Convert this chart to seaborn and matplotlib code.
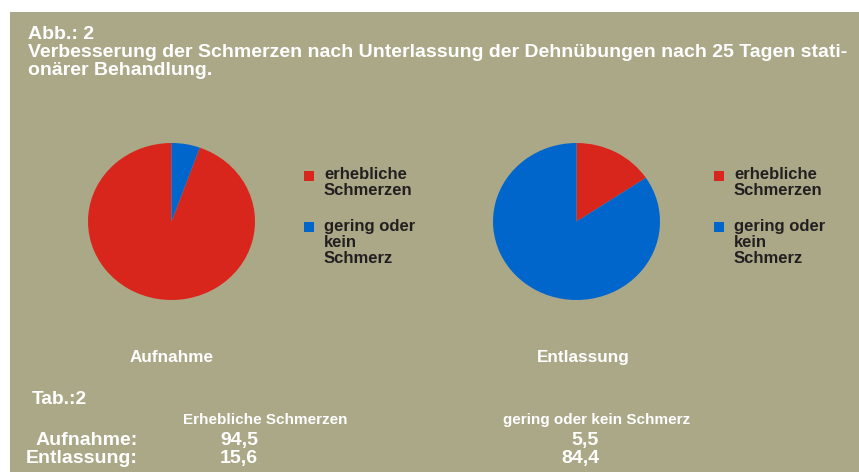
import matplotlib.pyplot as plt
import matplotlib.patches as mpatches
import seaborn as sns

# data
categories = ["erhebliche Schmerzen", "gering oder kein Schmerz"]
legend_labels = ["erhebliche\nSchmerzen", "gering oder\nkein\nSchmerz"]
aufnahme = [94.5, 5.5]
entlassung = [15.6, 84.4]
table_rows = ["Aufnahme:", "Entlassung:"]
table_cols = ["Erhebliche Schmerzen", "gering oder kein Schmerz"]
table_vals = [["94,5", "5,5"], ["15,6", "84,4"]]

sns.set_theme(style="white")
plt.rcParams["font.family"] = ["Liberation Sans", "DejaVu Sans"]
plt.rcParams["font.weight"] = "bold"

bg = "#aba888"
red, blue = sns.color_palette(["#d9261c", "#0066cc"])
dark = "#231f20"

W, H = 859, 472
fig = plt.figure(figsize=(W / 100, H / 100), dpi=100, facecolor="white")


def fx(x):
    return x / W


def fy(y):
    return 1 - y / H


# khaki panel with white strip at top/left
fig.patches.append(mpatches.Rectangle((fx(10), 0), 1 - fx(10), fy(12), transform=fig.transFigure,
                                      facecolor=bg, edgecolor="none", zorder=-5))

# title
fig.text(fx(28), fy(39), "Abb.: 2", color="white", fontsize=14, fontweight="bold")
fig.text(fx(28), fy(57), "Verbesserung der Schmerzen nach Unterlassung der Dehnübungen nach 25 Tagen stati-",
         color="white", fontsize=14, fontweight="bold")
fig.text(fx(28), fy(75), "onärer Behandlung.", color="white", fontsize=14, fontweight="bold")


def draw_pie(left, values, colors, counter):
    ax = fig.add_axes([fx(left), fy(300), 167 / W, 157 / H])
    ax.pie(values, colors=colors, startangle=90, counterclock=counter,
           wedgeprops=dict(linewidth=0))
    ax.set_aspect("auto")
    ax.set_xlim(-1, 1)
    ax.set_ylim(-1, 1)
    ax.patch.set_alpha(0)
    return ax


draw_pie(88, aufnahme, [red, blue], True)
draw_pie(493, entlassung, [red, blue], False)


def draw_legend(x_sq, x_txt):
    for (y_sq, y_base, lab, col) in [(171, 179, legend_labels[0], red), (222, 231, legend_labels[1], blue)]:
        fig.patches.append(mpatches.Rectangle((fx(x_sq), fy(y_sq + 10)), 10 / W, 10 / H,
                                              transform=fig.transFigure, facecolor=col, edgecolor="none"))
        for i, line in enumerate(lab.split("\n")):
            fig.text(fx(x_txt), fy(y_base + i * 16.2), line, color=dark, fontsize=12, fontweight="bold")


draw_legend(304, 324)
draw_legend(714, 734)

fig.text(fx(172), fy(362), "Aufnahme", color="white", fontsize=12.3, fontweight="bold", ha="center")
fig.text(fx(583), fy(362), "Entlassung", color="white", fontsize=12.3, fontweight="bold", ha="center")

# table
fig.text(fx(32), fy(404), "Tab.:2", color="white", fontsize=13.8, fontweight="bold")
fig.text(fx(265), fy(424), table_cols[0], color="white", fontsize=11, fontweight="bold", ha="center")
fig.text(fx(597), fy(424), table_cols[1], color="white", fontsize=11, fontweight="bold", ha="center")
for r, (row, base) in enumerate(zip(table_rows, [445, 463])):
    fig.text(fx(138), fy(base), row, color="white", fontsize=14, fontweight="bold", ha="right")
    fig.text(fx(258), fy(base), table_vals[r][0], color="white", fontsize=14, fontweight="bold", ha="right")
    fig.text(fx(599), fy(base), table_vals[r][1], color="white", fontsize=14, fontweight="bold", ha="right")

fig.savefig("out.png", dpi=100, facecolor="white")
